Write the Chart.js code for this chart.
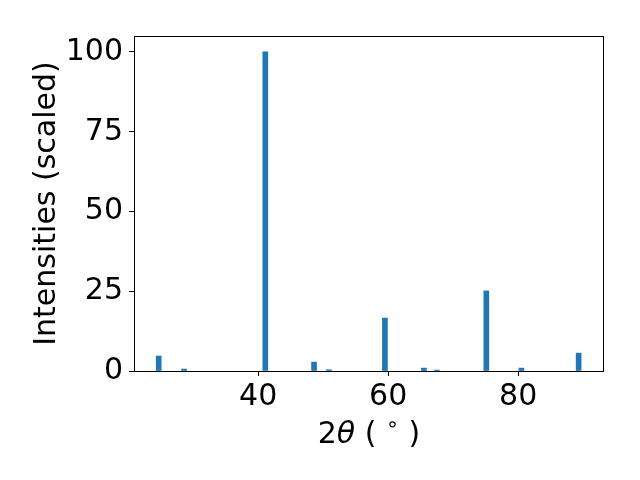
<!DOCTYPE html>
<html>
<head>
<meta charset="utf-8">
<script src="https://cdn.jsdelivr.net/npm/chart.js@4"></script>
<style>
  body { margin: 0; background: #fff; }
</style>
</head>
<body>
<canvas id="xrd" width="640" height="480"></canvas>
<script>
// peak positions (2theta, degrees) and scaled intensities
const twoTheta = [24.7, 28.6, 41.1, 48.6, 50.9, 59.5, 65.5, 67.5, 75.1, 80.5, 89.3];
const intensities = [4.7, 0.6, 100, 2.8, 0.4, 16.6, 0.9, 0.3, 25.1, 0.9, 5.6];
const xTicks = [40, 60, 80];
const yTicks = [0, 25, 50, 75, 100];

const font = "'DejaVu Sans', sans-serif";

const framePlugin = {
    id: 'frame',
    afterDraw(chart) {
        const ctx = chart.ctx;
        const a = chart.chartArea;
        ctx.save();
        ctx.strokeStyle = '#000';
        ctx.lineWidth = 1;
        ctx.strokeRect(a.left + 0.5, a.top + 0.5, a.right - a.left - 1, a.bottom - a.top);

        ctx.fillStyle = '#000';
        // y title
        ctx.save();
        ctx.translate(55, (a.top + a.bottom) / 2);
        ctx.rotate(-Math.PI / 2);
        ctx.font = '30px ' + font;
        ctx.textAlign = 'center';
        ctx.textBaseline = 'alphabetic';
        ctx.fillText('Intensities (scaled)', 0, 0);
        ctx.restore();

        // x title: 2θ (°) with italic theta and superscript ring
        const parts = [
            { t: '2', f: '30px ' + font, dy: 0 },
            { t: 'θ', f: 'italic 30px ' + font, dy: 0 },
            { t: ' ( ', f: '30px ' + font, dy: 0 },
            { t: '∘', f: '21px ' + font, dy: -12 },
            { t: ' )', f: '30px ' + font, dy: 0 }
        ];
        let total = 0;
        parts.forEach(p => { ctx.font = p.f; p.w = ctx.measureText(p.t).width; total += p.w; });
        let x = (a.left + a.right) / 2 - total / 2;
        const y = 443;
        ctx.textBaseline = 'alphabetic';
        ctx.textAlign = 'left';
        parts.forEach(p => { ctx.font = p.f; ctx.fillText(p.t, x, y + p.dy); x += p.w; });
        ctx.restore();
    }
};

new Chart(document.getElementById('xrd'), {
    type: 'bar',
    data: {
        datasets: [{
            data: twoTheta.map((t, i) => ({ x: t, y: intensities[i] })),
            backgroundColor: '#1f77b4',
            borderWidth: 0,
            barThickness: 5
        }]
    },
    options: {
        responsive: false,
        animation: false,
        devicePixelRatio: 1,
        layout: { padding: { left: 0, top: 36, right: 36, bottom: 0 } },
        plugins: { legend: { display: false }, tooltip: { enabled: false } },
        scales: {
            x: {
                type: 'linear',
                offset: false,
                min: 20.9,
                max: 93.2,
                afterFit: s => { s.height = 109; },
                afterBuildTicks: s => { s.ticks = xTicks.map(v => ({ value: v })); },
                grid: { offset: false, drawOnChartArea: false, drawTicks: true, tickLength: 5, color: '#000' },
                border: { display: false },
                ticks: { color: '#000', font: { family: font, size: 30 }, padding: 3, maxRotation: 0 }
            },
            y: {
                min: 0,
                max: 105,
                afterFit: s => { s.width = 134; },
                afterBuildTicks: s => { s.ticks = yTicks.map(v => ({ value: v })); },
                grid: { drawOnChartArea: false, drawTicks: true, tickLength: 5, color: '#000' },
                border: { display: false },
                ticks: { color: '#000', font: { family: font, size: 30 }, padding: 6 }
            }
        }
    },
    plugins: [framePlugin]
});
</script>
</body>
</html>
